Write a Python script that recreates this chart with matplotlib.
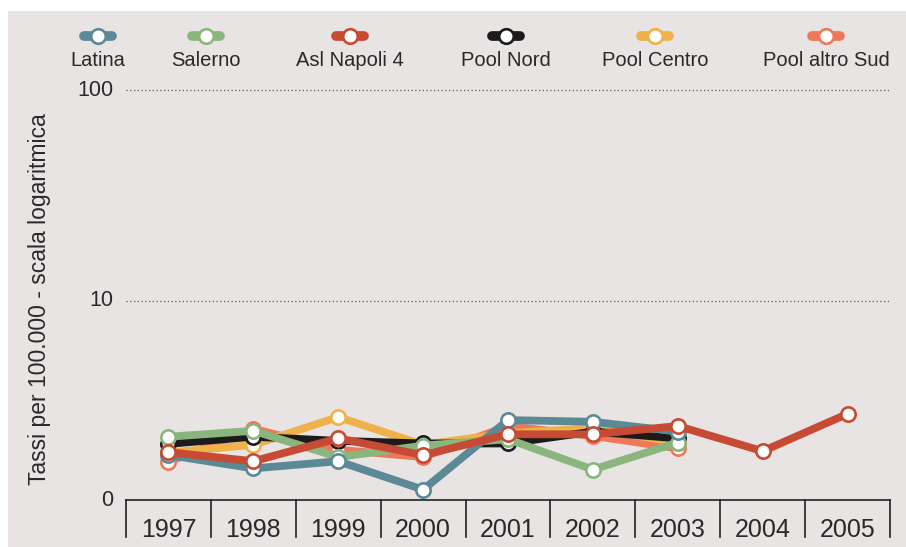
import matplotlib
matplotlib.use("Agg")
import matplotlib.pyplot as plt
from matplotlib.lines import Line2D
from matplotlib.patches import Rectangle
from matplotlib.ticker import FixedLocator, NullLocator

plt.rcParams["font.family"] = ["Liberation Sans", "DejaVu Sans"]

# dati (tassi per 100.000)
anni = ["1997", "1998", "1999", "2000", "2001", "2002", "2003", "2004", "2005"]
latina = [1.84, 1.59, 1.72, 1.26, 2.70, 2.65, 2.38]
salerno = [2.25, 2.40, 1.80, 2.04, 2.19, 1.57, 2.11]
napoli4 = [1.90, 1.72, 2.21, 1.84, 2.31, 2.31, 2.53, 1.92, 2.89]
pool_nord = [2.08, 2.25, 2.15, 2.09, 2.09, 2.38, 2.21]
pool_centro = [1.89, 2.06, 2.79, 2.06, 2.34, 2.47, 2.11]
pool_sud = [1.71, 2.45, 1.95, 1.80, 2.53, 2.27, 1.98]

serie = [
    ("Latina", latina, "#5b8996"),
    ("Salerno", salerno, "#8ab67e"),
    ("Asl Napoli 4", napoli4, "#c74a34"),
    ("Pool Nord", pool_nord, "#1c1a1a"),
    ("Pool Centro", pool_centro, "#efb14a"),
    ("Pool altro Sud", pool_sud, "#ec795a"),
]
# ordine di disegno (dal basso verso l'alto)
ordine = [5, 4, 3, 1, 0, 2]
legenda_x = [98, 206, 350, 506, 655, 826]

W, H = 906, 547
fig = plt.figure(figsize=(W / 100, H / 100), dpi=100, facecolor="white")
fig.patches.append(Rectangle((8 / W, 0), 1, 1 - 11 / H, transform=fig.transFigure,
                             facecolor="#e9e4e4", edgecolor="none", zorder=-10))

ax = fig.add_axes([126 / W, 1 - 500 / H, (890 - 126) / W, (500 - 85) / H])
ax.set_facecolor("none")
ax.set_yscale("log")
y_min, y_max = 1.125, 106
ax.set_ylim(y_min, y_max)
ax.set_xlim(-0.5, len(anni) - 0.5)

for i in ordine:
    nome, valori, col = serie[i]
    ax.plot(range(len(valori)), valori, color=col, lw=5.6, solid_joinstyle="round",
            marker="o", ms=10.3, mfc="white", mec=col, mew=1.9,
            zorder=3 + ordine.index(i), clip_on=False)

# asse y
ax.yaxis.set_major_locator(FixedLocator([y_min, 10, 100]))
ax.yaxis.set_minor_locator(NullLocator())
ax.set_yticklabels(["0", "10", "100"])
ax.tick_params(axis="y", length=0, pad=9, labelsize=15.5, labelcolor="#2a2828")
for tl in ax.get_yticklabels():
    tl.set_va("center")
for v in [10, 100]:
    ax.axhline(v, color="#555555", lw=0.9, ls=(0, (1, 2)), zorder=1)
fig.text(40 / W, 1 - 299 / H, "Tassi per 100.000 - scala logaritmica", rotation=90,
         ha="center", va="center", fontsize=16.5, color="#2a2828")

# asse x
ax.set_xticks(range(len(anni)))
ax.set_xticklabels(anni)
ax.tick_params(axis="x", length=0, pad=13, labelsize=18, labelcolor="#2a2828")
for s in ["left", "right", "top"]:
    ax.spines[s].set_visible(False)
ax.spines["bottom"].set_color("#222222")
ax.spines["bottom"].set_linewidth(1.2)
trans = ax.get_xaxis_transform()
for k in range(len(anni) + 1):
    ax.plot([k - 0.5, k - 0.5], [0, -37 / 415], color="#222222", lw=1.2,
            transform=trans, clip_on=False)

# legenda
for (nome, valori, col), px in zip(serie, legenda_x):
    fx = px / W
    fig.add_artist(Line2D([fx - 14 / W, fx + 14 / W], [1 - 36 / H] * 2, color=col, lw=7,
                          solid_capstyle="round", transform=fig.transFigure))
    fig.add_artist(Line2D([fx], [1 - 36 / H], marker="o", ms=10.5, mfc="white", mec=col,
                          mew=1.9, transform=fig.transFigure))
    fig.text(fx, 1 - 61 / H, nome, ha="center", va="center", fontsize=14.5, color="#2a2828")

fig.savefig("out.png", dpi=100, facecolor=fig.get_facecolor())
